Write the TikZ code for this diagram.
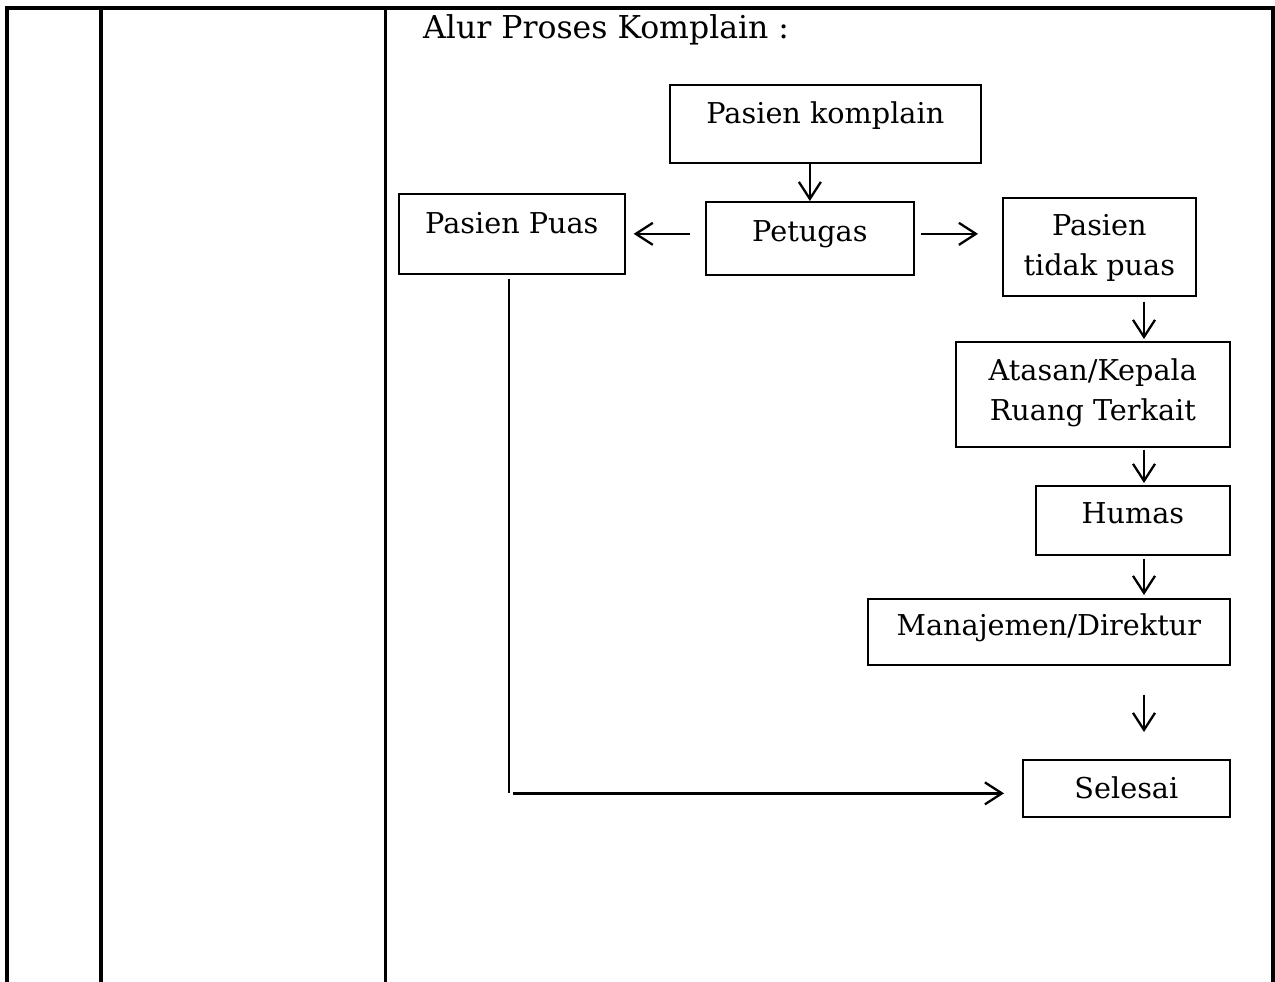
\documentclass[tikz,border=0pt]{standalone}
\usepackage{fontspec}
\setmainfont{DejaVu Serif}
\usetikzlibrary{arrows.meta}
\newcommand\twoline[2]{\begin{tabular}[t]{@{}c@{}}#1\\#2\end{tabular}}
\begin{document}
\begin{tikzpicture}[x=1pt,y=-1pt,
  rule/.style={line width=3.6pt, line join=miter},
  flowbox/.style 2 args={draw, line width=1.7pt, inner sep=0pt, anchor=north west,
    minimum width=#1, minimum height=#2, align=center},
  arr/.style={line width=2.3pt, -{Straight Barb[length=17pt,width=22pt,line width=2.3pt]}},
  plain/.style={line width=2.3pt},
  every node/.style={font=\fontsize{28.7}{40}\selectfont}]
\useasboundingbox (0,0) rectangle (1275,982);

% table frame
\draw[rule] (7,990) -- (7,8) -- (1273,8) -- (1273,990);
\draw[rule] (100.7,8) -- (100.7,990);
\draw[rule] (385.5,8) -- (385.5,990);

% heading
\node[anchor=base west, inner sep=0pt, font=\fontsize{31.5}{40}\selectfont] (title) at (423,39) {Alur Proses Komplain :};

% flow boxes
\node[flowbox={311pt}{78pt}, text height=39pt, text depth=39pt] (komplain) at (669,84) {Pasien komplain};
\node[flowbox={208pt}{73pt}, text height=40pt, text depth=33pt] (petugas) at (705,201) {Petugas};
\node[flowbox={226pt}{80pt}, text height=40pt, text depth=40pt] (puas) at (398,193) {Pasien Puas};
\node[flowbox={193pt}{98pt}, text height=38pt, text depth=60pt] (tidak) at (1002,197) {\twoline{Pasien}{tidak puas}};
\node[flowbox={274pt}{105pt}, text height=39pt, text depth=66pt] (atasan) at (955,341) {\twoline{Atasan/Kepala}{Ruang Terkait}};
\node[flowbox={194pt}{69pt}, text height=38pt, text depth=31pt] (humas) at (1035,485) {Humas};
\node[flowbox={362pt}{66pt}, text height=37pt, text depth=29pt] (manaj) at (867,598) {Manajemen/Direktur};
\node[flowbox={207pt}{57pt}, text height=39pt, text depth=18pt] (selesai) at (1022,759) {Selesai};

% column of the right-hand arrows
\coordinate (colx) at (1144,0);

% connectors
\draw[arr] (komplain.south -| petugas.north) -- (petugas.north);
\draw[arr] ([xshift=-15pt]petugas.west |- puas.east) -- ([xshift=8pt]puas.east);
\draw[arr] ([xshift=6pt]petugas.east |- puas.east) -- ([xshift=-24pt]tidak.west |- puas.east);
\draw[arr] ([yshift=-5pt]tidak.south -| colx) -- ([yshift=2pt]atasan.north -| colx);
\draw[arr] ([yshift=-2pt]atasan.south -| colx) -- ([yshift=2pt]humas.north -| colx);
\draw[arr] ([yshift=-3pt]humas.south -| colx) -- ([yshift=3pt]manaj.north -| colx);
\draw[arr] ([yshift=-29pt]manaj.south -| colx) -- ([yshift=27pt]selesai.north -| colx);
\draw[plain] ([xshift=-3pt,yshift=-4pt]puas.south) -- ([xshift=-3pt,yshift=-5pt]puas.south |- selesai.west);
\draw[arr] ([xshift=1pt,yshift=-5pt]puas.south |- selesai.west) -- ([xshift=-18pt,yshift=-5pt]selesai.west);
\end{tikzpicture}
\end{document}
